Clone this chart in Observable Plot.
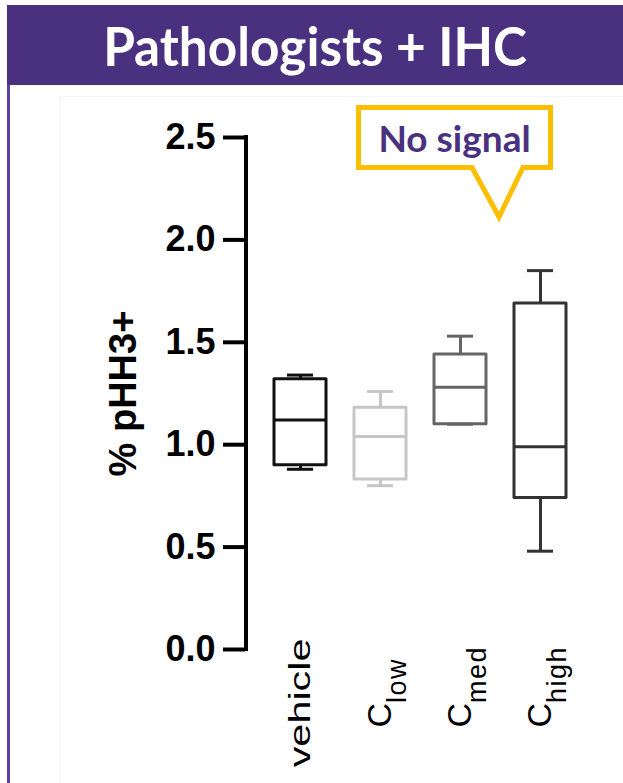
<!DOCTYPE html>
<html><head><meta charset="utf-8">
<script src="https://cdn.jsdelivr.net/npm/d3@7"></script>
<script src="https://cdn.jsdelivr.net/npm/@observablehq/plot@0.6"></script>
<style>
html,body{margin:0;padding:0;background:#fff;}
#page{position:relative;width:623px;height:783px;overflow:hidden;font-family:"Liberation Sans",Arial,sans-serif;}
#header{position:absolute;left:7px;top:5px;width:616px;height:80px;background:#4a3180;color:#fff;font-family:Lato,"Open Sans",sans-serif;font-weight:700;font-size:54px;display:flex;align-items:center;justify-content:center;}
#header span{display:inline-block;transform:scaleX(0.95);}
#leftbar{position:absolute;left:7px;top:85px;width:3px;height:698px;background:#5b43a0;}
#inner{position:absolute;left:60px;top:96px;width:600px;height:700px;border:1px solid #f5f5f5;}
#chart{position:absolute;left:0;top:85px;}
#bubble{position:absolute;left:350px;top:100px;width:210px;height:130px;}
#bubbleText{position:absolute;left:356px;top:105px;width:197px;height:65px;display:flex;align-items:center;justify-content:center;font-family:Lato,"Open Sans",sans-serif;font-weight:700;font-size:37px;color:#4a3180;}
</style>
</head><body>
<div id="page">
  <div id="header"><span>Pathologists + IHC</span></div>
  <div id="leftbar"></div>
  <div id="inner"></div>
  <div id="chart"></div>
  <svg id="bubble" viewBox="0 0 210 130"><path d="M8.5 7.5 H200.5 V67.5 H173 L149 117 L122 67.5 H8.5 Z" fill="#fff" stroke="#fbbf00" stroke-width="5" stroke-linejoin="miter"/></svg>
  <div id="bubbleText">No signal</div>
</div>
<script>
const groups = ["vehicle", "Clow", "Cmed", "Chigh"];
const labelBase = ["vehicle", "C", "C", "C"];
const labelSub = ["", "low", "med", "high"];
const whiskerLow = [0.88, 0.80, 1.10, 0.48];
const q1 = [0.90, 0.83, 1.10, 0.74];
const median = [1.12, 1.04, 1.28, 0.99];
const q3 = [1.32, 1.18, 1.44, 1.69];
const whiskerHigh = [1.34, 1.26, 1.53, 1.85];
const boxColors = ["#111111", "#c6c6c6", "#666666", "#333333"];
const yTicks = [0, 0.5, 1.0, 1.5, 2.0, 2.5];
const yLabel = "% pHH3+";

const data = groups.map((g, i) => ({group: g, lo: whiskerLow[i], q1: q1[i], med: median[i], q3: q3[i], hi: whiskerHigh[i], color: boxColors[i]}));

const mLeft = 245;
const plot = Plot.plot({
  width: 623, height: 698,
  marginLeft: mLeft, marginRight: 42, marginTop: 52, marginBottom: 134,
  x: {type: "band", domain: groups, padding: 0, insetLeft: 14, label: null},
  y: {domain: [0, 2.5], label: null},
  color: {type: "identity"},
  style: {fontFamily: "'Liberation Sans', Arial, sans-serif", color: "#000", background: "transparent", overflow: "visible"},
  marks: [
    Plot.ruleX(data, {x: "group", y1: "lo", y2: "q1", stroke: "color", strokeWidth: 3}),
    Plot.ruleX(data, {x: "group", y1: "q3", y2: "hi", stroke: "color", strokeWidth: 3}),
    Plot.barY(data, {x: "group", y1: "q1", y2: "q3", fill: "white", stroke: "color", strokeWidth: 3, strokeLinejoin: "round", insetLeft: 14, insetRight: 14}),
    Plot.tickY(data, {x: "group", y: "med", stroke: "color", strokeWidth: 3, inset: 14}),
    Plot.tickY(data, {x: "group", y: "lo", stroke: "color", strokeWidth: 3, inset: 27}),
    Plot.tickY(data, {x: "group", y: "hi", stroke: "color", strokeWidth: 3, inset: 27}),
    Plot.axisY({ticks: yTicks, tickFormat: d3.format(".1f"), tickSize: 22, tickPadding: 8, strokeWidth: 4, fontSize: 36, fontWeight: "bold", label: null}),
    Plot.axisX({tickSize: 0, tickRotate: -90, fontSize: 34, dy: -11, tickPadding: 0, label: null}),
    Plot.text([yLabel], {text: d => d, frameAnchor: "left", textAnchor: "middle", rotate: -90, dx: -122, fontSize: 38, fontWeight: "bold"})
  ]
});

// y axis line
const ys = plot.scale("y");
d3.select(plot).append("line")
  .attr("x1", mLeft + 1).attr("x2", mLeft + 1)
  .attr("y1", ys.apply(0) + 2).attr("y2", ys.apply(2.5) - 2)
  .attr("stroke", "#000").attr("stroke-width", 4);

// x tick labels: subscripts and Prism-like stretched lettering
const cLabelDrop = 89;
d3.select(plot).selectAll('g[aria-label="x-axis tick label"] text').each(function() {
  const i = groups.indexOf(this.textContent);
  if (i < 0) return;
  const t = d3.select(this);
  t.text(null);
  if (labelSub[i]) {
    t.attr("text-anchor", "start").attr("x", -cLabelDrop);
    t.append("tspan").text(labelBase[i]);
    t.append("tspan").attr("baseline-shift", "sub").attr("font-size", 27).attr("letter-spacing", 1.5).text(labelSub[i]);
  } else {
    t.attr("font-size", 30);
    t.attr("transform", (t.attr("transform") || "") + " scale(1.38,1)");
    t.append("tspan").text(labelBase[i]);
  }
});

document.getElementById("chart").appendChild(plot);
</script>
</body></html>
